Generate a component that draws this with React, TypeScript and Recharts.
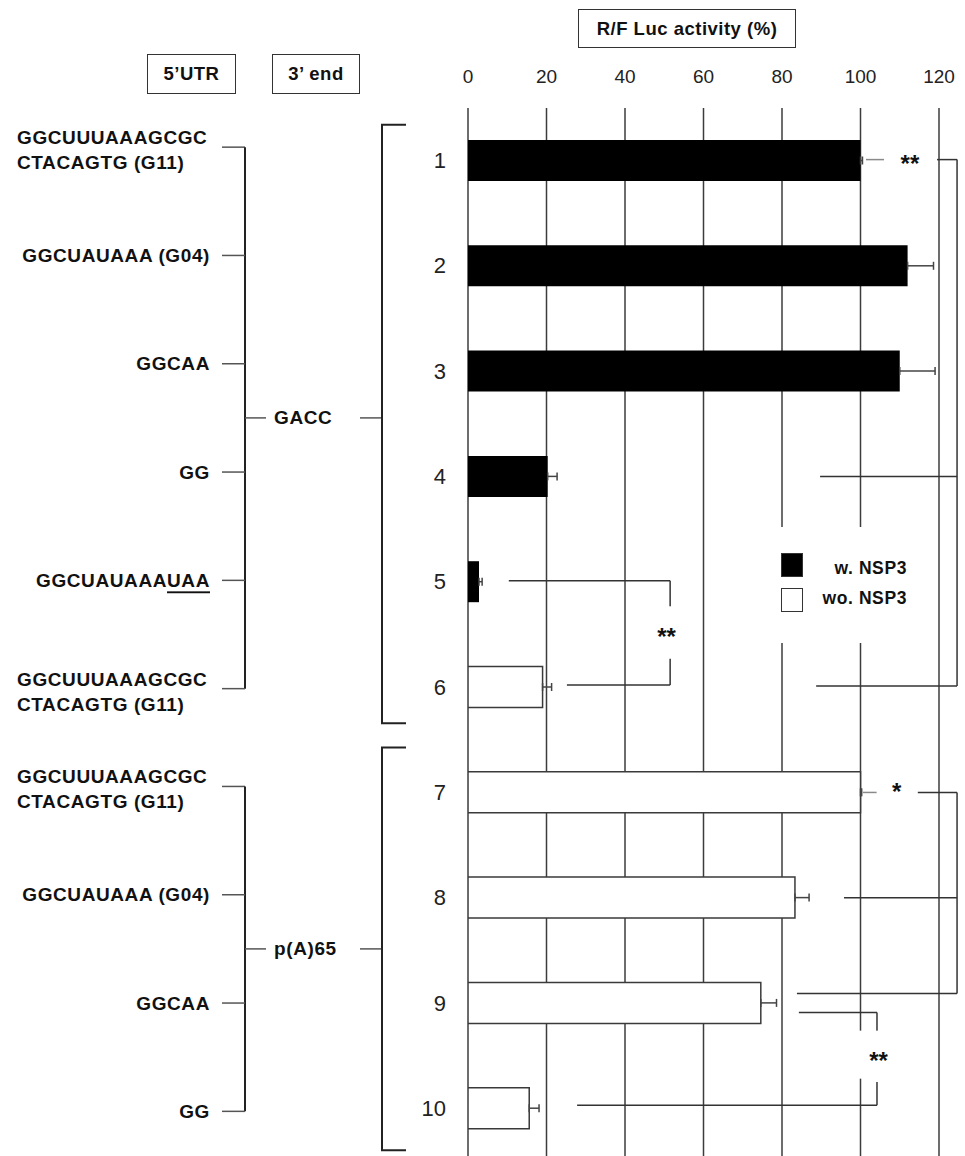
import React from 'react';
import {
  BarChart,
  Bar,
  XAxis,
  YAxis,
  CartesianGrid,
  ErrorBar,
  ReferenceLine,
  ReferenceDot,
  Legend,
} from 'recharts';

// construct numbers, top to bottom
const rows = ['1', '2', '3', '4', '5', '6', '7', '8', '9', '10'];

// R/F Luc activity (%), with NSP3 (black) and without NSP3 (white)
const withNsp3 = [100, 112, 110, 20.3, 2.8, null, null, null, null, null];
const withNsp3Err = [0.5, 6.6, 9, 2.4, 0.8, null, null, null, null, null];
const withoutNsp3 = [null, null, null, null, null, 19, 100, 83.3, 74.6, 15.6];
const withoutNsp3Err = [null, null, null, null, null, 2.3, 0.3, 3.6, 4, 2.5];

const xTicks = [0, 20, 40, 60, 80, 100, 120];

// 5'UTR of each construct (multi-line where the figure wraps)
const utrLabels = [
  ['GGCUUUAAAGCGC', 'CTACAGTG  (G11)'],
  ['GGCUAUAAA (G04)'],
  ['GGCAA'],
  ['GG'],
  ['GGCUAUAAA'],
  ['GGCUUUAAAGCGC', 'CTACAGTG (G11)'],
  ['GGCUUUAAAGCGC', 'CTACAGTG (G11)'],
  ['GGCUAUAAA (G04)'],
  ['GGCAA'],
  ['GG'],
];
const utrUnderlined = ['', '', '', '', 'UAA', '', '', '', '', ''];

// 3' end groups
const endLabels = ['GACC', 'p(A)65'];
const groupSizes = [6, 4];

const legendNames = ['w. NSP3', 'wo. NSP3'];
const legendFills = ['#000', '#fff'];

// significance brackets, in (activity %, row) units
const sigLines = [
  // 1 vs 4 / 6
  { from: [101.4, 0.99], to: [106, 0.99], faint: true },
  { from: [119.5, 0.99], to: [124.6, 0.99] },
  { from: [124.6, 0.99], to: [124.6, 5.99] },
  { from: [89.7, 4.0], to: [124.6, 4.0] },
  { from: [88.7, 5.99], to: [124.6, 5.99] },
  // 5 vs 6
  { from: [10.4, 4.99], to: [51.5, 4.99] },
  { from: [51.5, 4.99], to: [51.5, 5.25] },
  { from: [51.5, 5.73], to: [51.5, 5.98] },
  { from: [25.2, 5.98], to: [51.5, 5.98] },
  // 7 vs 8 / 9
  { from: [100.6, 7.0], to: [104.2, 7.0], faint: true },
  { from: [114.6, 7.0], to: [124.6, 7.0] },
  { from: [124.6, 7.0], to: [124.6, 8.91] },
  { from: [95.8, 8.0], to: [124.6, 8.0] },
  { from: [83.8, 8.91], to: [124.6, 8.91] },
  // 9 vs 10
  { from: [84.3, 9.09], to: [104.2, 9.09] },
  { from: [104.2, 9.09], to: [104.2, 9.28] },
  { from: [104.2, 9.75], to: [104.2, 9.97] },
  { from: [27.8, 9.97], to: [104.2, 9.97] },
];
const sigMarks = [
  { text: '**', x: 112.6, row: 0.97 },
  { text: '**', x: 50.6, row: 5.46 },
  { text: '*', x: 109.2, row: 6.93 },
  { text: '**', x: 104.6, row: 9.49 },
];

const table = rows.map((row, i) => ({
  row,
  pos: i + 1,
  w: withNsp3[i],
  wo: withoutNsp3[i],
  wErr: withNsp3Err[i] == null ? null : [0, withNsp3Err[i]],
  woErr: withoutNsp3Err[i] == null ? null : [0, withoutNsp3Err[i]],
}));

const FONT = "'Liberation Sans', Arial, Helvetica, sans-serif";
const W = 965;
const H = 1161;
const MARGIN = { top: 68, right: 26, bottom: 0, left: 408 };
const X_AXIS_H = 40;
const Y_AXIS_W = 60;
const STEP = (H - MARGIN.top - X_AXIS_H - MARGIN.bottom) / rows.length;

// left panel layout
const LABEL_SHIFT = [-13.5, -6];
const LABEL_SPREAD = 3;
const BRACKET_PAD_TOP = [36, 45];
const BRACKET_PAD_BOTTOM = [36, 42];
const LINE = '#222';

const groupOf = (i: number) => {
  let start = 0;
  for (let g = 0; g < groupSizes.length; g++) {
    if (i < start + groupSizes[g]) return { g, k: i - start, n: groupSizes[g] };
    start += groupSizes[g];
  }
  return { g: 0, k: 0, n: 1 };
};

const labelStyle = { fontFamily: FONT, fontWeight: 700, fontSize: 19, letterSpacing: 0.6, fill: '#111' };

const RowTick = (props: any) => {
  const { x, y, payload } = props;
  const i = rows.indexOf(String(payload.value));
  const { g, k, n } = groupOf(i);
  const ly = y + LABEL_SHIFT[g] + k * LABEL_SPREAD;
  const lines = utrLabels[i];

  let group = null;
  if (k === 0) {
    const lastY = y + (n - 1) * STEP;
    const lastLy = lastY + LABEL_SHIFT[g] + (n - 1) * LABEL_SPREAD;
    const mid = (ly + lastLy) / 2;
    const top = y - BRACKET_PAD_TOP[g];
    const bottom = lastY + BRACKET_PAD_BOTTOM[g];
    group = (
      <g>
        <line x1={245} y1={ly} x2={245} y2={lastLy} stroke={LINE} strokeWidth={2} />
        <line x1={245} y1={mid} x2={266} y2={mid} stroke="#555" strokeWidth={1.5} />
        <text x={274} y={mid} dominantBaseline="central" style={labelStyle}>
          {endLabels[g]}
        </text>
        <line x1={360} y1={mid} x2={382} y2={mid} stroke="#555" strokeWidth={1.5} />
        <polyline
          points={`406,${top} 382,${top} 382,${bottom} 406,${bottom}`}
          fill="none"
          stroke={LINE}
          strokeWidth={2}
        />
      </g>
    );
  }

  return (
    <g>
      <text x={x} y={y} textAnchor="end" dominantBaseline="central" fontFamily={FONT} fontSize={22} fill="#222">
        {payload.value}
      </text>
      <line x1={222} y1={ly} x2={245} y2={ly} stroke="#555" strokeWidth={1.5} />
      {lines.length > 1 ? (
        <text x={17} y={ly - 3} style={labelStyle}>
          <tspan x={17}>{lines[0]}</tspan>
          <tspan x={17} dy={25}>{lines[1]}</tspan>
        </text>
      ) : (
        <text x={210} y={ly} textAnchor="end" dominantBaseline="central" style={labelStyle}>
          {lines[0]}
          {utrUnderlined[i] ? <tspan textDecoration="underline">{utrUnderlined[i]}</tspan> : null}
        </text>
      )}
      {group}
    </g>
  );
};

const renderLegend = (props: any) => {
  const payload = props.payload && props.payload.length ? props.payload : [];
  const items = legendNames.map((name, i) => ({
    name: payload[i]?.value ?? name,
    fill: legendFills[i],
  }));
  return (
    <div style={{ position: 'relative', width: 160, height: 116, background: '#fff' }}>
      {items.map((it, i) => (
        <div key={it.name} style={{ position: 'absolute', left: 0, top: i === 0 ? 26 : 61, width: 160, height: 24 }}>
          <div
            style={{
              position: 'absolute',
              left: 11,
              top: 0,
              width: 22,
              height: 24,
              boxSizing: 'border-box',
              background: it.fill,
              border: '1.5px solid #333',
            }}
          />
          <div
            style={{
              position: 'absolute',
              right: 23,
              top: i === 0 ? 3 : -2,
              fontFamily: FONT,
              fontWeight: 700,
              fontSize: 17.5,
              letterSpacing: 0.6,
              color: '#111',
              lineHeight: '24px',
              whiteSpace: 'nowrap',
            }}
          >
            {it.name}
          </div>
        </div>
      ))}
    </div>
  );
};

const HeaderBox = ({ left, top, width, height, text }: any) => (
  <div
    style={{
      position: 'absolute',
      left,
      top,
      width,
      height,
      boxSizing: 'border-box',
      border: '1.5px solid #333',
      background: '#fff',
      display: 'flex',
      alignItems: 'center',
      justifyContent: 'center',
      fontFamily: FONT,
      fontWeight: 700,
      fontSize: 18.5,
      letterSpacing: 0.5,
      color: '#111',
    }}
  >
    {text}
  </div>
);

export default function App() {
  return (
    <div style={{ position: 'absolute', left: 0, top: 0, width: 965, height: 1156, overflow: 'hidden', background: '#fff' }}>
      <BarChart width={W} height={H} data={table} layout="vertical" margin={MARGIN} barSize={41}>
        <CartesianGrid yAxisId="cat" horizontal={false} stroke="#3c3c3c" strokeWidth={1.5} />
        <XAxis
          type="number"
          orientation="top"
          domain={[0, 120]}
          ticks={xTicks}
          interval={0}
          allowDataOverflow
          axisLine={false}
          tickLine={false}
          tickSize={0}
          tickMargin={25}
          height={X_AXIS_H}
          tick={{ fontSize: 19, fill: '#222', fontFamily: FONT }}
        />
        <YAxis
          yAxisId="cat"
          type="category"
          dataKey="row"
          width={Y_AXIS_W}
          interval={0}
          axisLine={false}
          tickLine={false}
          tickSize={0}
          tickMargin={22}
          tick={<RowTick />}
        />
        {/* numeric twin of the row axis, used to place the significance brackets */}
        <YAxis yAxisId="pos" type="number" dataKey="pos" domain={[0.5, 10.5]} hide allowDataOverflow />
        <Bar yAxisId="cat" dataKey="w" name="w. NSP3" stackId="s" fill="#000" isAnimationActive={false}>
          <ErrorBar dataKey="wErr" direction="x" width={4} stroke="#444" strokeWidth={1.5} isAnimationActive={false} />
        </Bar>
        <Bar
          yAxisId="cat"
          dataKey="wo"
          name="wo. NSP3"
          stackId="s"
          fill="#fff"
          stroke="#3a3a3a"
          strokeWidth={1.5}
          isAnimationActive={false}
        >
          <ErrorBar dataKey="woErr" direction="x" width={4} stroke="#444" strokeWidth={1.5} isAnimationActive={false} />
        </Bar>
        {sigLines.map((s, i) => (
          <ReferenceLine
            key={`s${i}`}
            yAxisId="pos"
            ifOverflow="visible"
            segment={[
              { x: s.from[0], y: s.from[1] },
              { x: s.to[0], y: s.to[1] },
            ]}
            stroke={s.faint ? '#8a8a8a' : '#333'}
            strokeWidth={1.5}
          />
        ))}
        {sigMarks.map((m, i) => (
          <ReferenceDot
            key={`m${i}`}
            yAxisId="pos"
            x={m.x}
            y={m.row}
            r={0}
            ifOverflow="visible"
            shape={(p: any) => (
              <g>
                <rect x={p.cx - 20} y={p.cy - 24} width={40} height={48} fill="#fff" />
                <text
                  x={p.cx}
                  y={p.cy + 6}
                  textAnchor="middle"
                  dominantBaseline="central"
                  fontFamily={FONT}
                  fontWeight={700}
                  fontSize={24}
                  fill="#111"
                >
                  {m.text}
                </text>
              </g>
            )}
          />
        ))}
        <Legend
          layout="horizontal"
          align="center"
          verticalAlign="middle"
          width={160}
          height={116}
          wrapperStyle={{ left: 770, top: 527, width: 160, height: 116 }}
          content={renderLegend}
        />
      </BarChart>
      <HeaderBox left={147} top={54} width={89} height={40} text="5’UTR" />
      <HeaderBox left={272} top={54} width={88} height={40} text="3’ end" />
      <HeaderBox left={578} top={9} width={218} height={39} text="R/F Luc activity (%)" />
    </div>
  );
}
